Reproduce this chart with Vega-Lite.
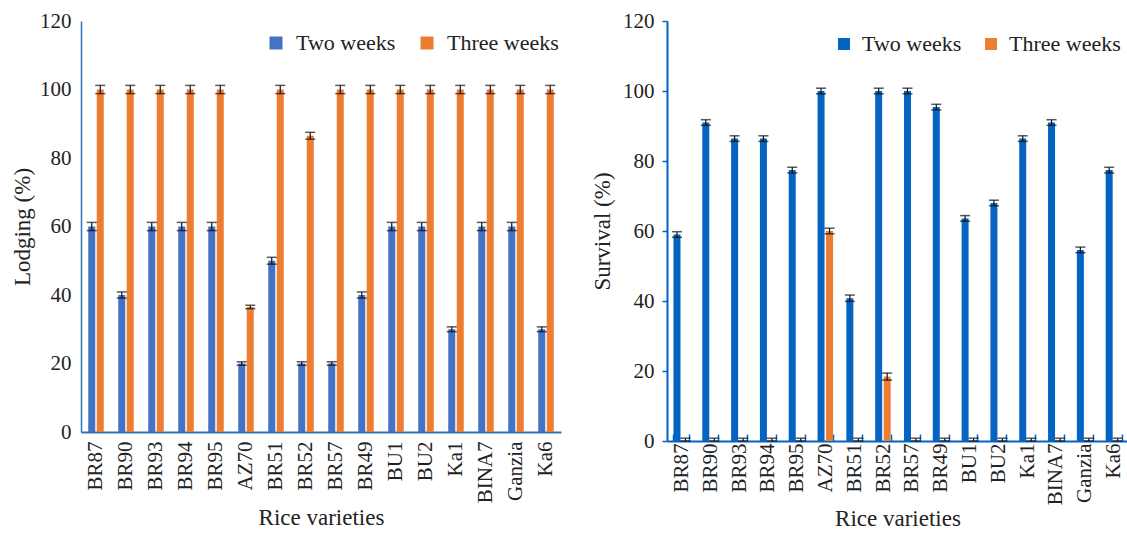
{
  "$schema": "https://vega.github.io/schema/vega-lite/v6.json",
  "padding": {"left": 11, "top": 10, "right": 0, "bottom": 0},
  "background": "white",
  "bounds": "flush",
  "spacing": 106,
  "config": {
    "font": "Liberation Serif",
    "view": {"stroke": null},
    "style": {"guide-label": {"font": "Liberation Serif"}, "guide-title": {"font": "Liberation Serif"}},
    "axis": {"labelFont": "Liberation Serif", "titleFont": "Liberation Serif", "labelFontSize": 21, "titleFontSize": 23, "titleFontWeight": "normal", "labelColor": "#222222", "titleColor": "#222222", "grid": false},
    "legend": {"labelFont": "Liberation Serif", "labelFontSize": 22, "labelColor": "#222222"}
  },
  "datasets": {
    "lodging": [
      {"variety": "BR87", "period": "Two weeks", "value": 60, "lo": 58.8, "hi": 61.2},
      {"variety": "BR87", "period": "Three weeks", "value": 100, "lo": 98.8, "hi": 101.2},
      {"variety": "BR90", "period": "Two weeks", "value": 40, "lo": 39.1, "hi": 40.9},
      {"variety": "BR90", "period": "Three weeks", "value": 100, "lo": 98.8, "hi": 101.2},
      {"variety": "BR93", "period": "Two weeks", "value": 60, "lo": 58.8, "hi": 61.2},
      {"variety": "BR93", "period": "Three weeks", "value": 100, "lo": 98.8, "hi": 101.2},
      {"variety": "BR94", "period": "Two weeks", "value": 60, "lo": 58.8, "hi": 61.2},
      {"variety": "BR94", "period": "Three weeks", "value": 100, "lo": 98.8, "hi": 101.2},
      {"variety": "BR95", "period": "Two weeks", "value": 60, "lo": 58.8, "hi": 61.2},
      {"variety": "BR95", "period": "Three weeks", "value": 100, "lo": 98.8, "hi": 101.2},
      {"variety": "AZ70", "period": "Two weeks", "value": 20, "lo": 19.5, "hi": 20.5},
      {"variety": "AZ70", "period": "Three weeks", "value": 36.5, "lo": 36, "hi": 37},
      {"variety": "BR51", "period": "Two weeks", "value": 50, "lo": 49, "hi": 51},
      {"variety": "BR51", "period": "Three weeks", "value": 100, "lo": 98.8, "hi": 101.2},
      {"variety": "BR52", "period": "Two weeks", "value": 20, "lo": 19.5, "hi": 20.5},
      {"variety": "BR52", "period": "Three weeks", "value": 86.5, "lo": 85.5, "hi": 87.5},
      {"variety": "BR57", "period": "Two weeks", "value": 20, "lo": 19.5, "hi": 20.5},
      {"variety": "BR57", "period": "Three weeks", "value": 100, "lo": 98.8, "hi": 101.2},
      {"variety": "BR49", "period": "Two weeks", "value": 40, "lo": 39.1, "hi": 40.9},
      {"variety": "BR49", "period": "Three weeks", "value": 100, "lo": 98.8, "hi": 101.2},
      {"variety": "BU1", "period": "Two weeks", "value": 60, "lo": 58.8, "hi": 61.2},
      {"variety": "BU1", "period": "Three weeks", "value": 100, "lo": 98.8, "hi": 101.2},
      {"variety": "BU2", "period": "Two weeks", "value": 60, "lo": 58.8, "hi": 61.2},
      {"variety": "BU2", "period": "Three weeks", "value": 100, "lo": 98.8, "hi": 101.2},
      {"variety": "Ka1", "period": "Two weeks", "value": 30, "lo": 29.3, "hi": 30.7},
      {"variety": "Ka1", "period": "Three weeks", "value": 100, "lo": 98.8, "hi": 101.2},
      {"variety": "BINA7", "period": "Two weeks", "value": 60, "lo": 58.8, "hi": 61.2},
      {"variety": "BINA7", "period": "Three weeks", "value": 100, "lo": 98.8, "hi": 101.2},
      {"variety": "Ganzia", "period": "Two weeks", "value": 60, "lo": 58.8, "hi": 61.2},
      {"variety": "Ganzia", "period": "Three weeks", "value": 100, "lo": 98.8, "hi": 101.2},
      {"variety": "Ka6", "period": "Two weeks", "value": 30, "lo": 29.3, "hi": 30.7},
      {"variety": "Ka6", "period": "Three weeks", "value": 100, "lo": 98.8, "hi": 101.2}
    ],
    "survival": [
      {"variety": "BR87", "period": "Two weeks", "value": 59, "lo": 58.2, "hi": 59.8},
      {"variety": "BR87", "period": "Three weeks", "value": 0, "lo": 0, "hi": 0.8},
      {"variety": "BR90", "period": "Two weeks", "value": 91, "lo": 90.2, "hi": 91.8},
      {"variety": "BR90", "period": "Three weeks", "value": 0, "lo": 0, "hi": 0.8},
      {"variety": "BR93", "period": "Two weeks", "value": 86.4, "lo": 85.6, "hi": 87.2},
      {"variety": "BR93", "period": "Three weeks", "value": 0, "lo": 0, "hi": 0.8},
      {"variety": "BR94", "period": "Two weeks", "value": 86.4, "lo": 85.6, "hi": 87.2},
      {"variety": "BR94", "period": "Three weeks", "value": 0, "lo": 0, "hi": 0.8},
      {"variety": "BR95", "period": "Two weeks", "value": 77.4, "lo": 76.6, "hi": 78.2},
      {"variety": "BR95", "period": "Three weeks", "value": 0, "lo": 0, "hi": 0.8},
      {"variety": "AZ70", "period": "Two weeks", "value": 100, "lo": 99.2, "hi": 100.8},
      {"variety": "AZ70", "period": "Three weeks", "value": 60, "lo": 59.2, "hi": 60.8},
      {"variety": "BR51", "period": "Two weeks", "value": 40.8, "lo": 39.9, "hi": 41.7},
      {"variety": "BR51", "period": "Three weeks", "value": 0, "lo": 0, "hi": 0.8},
      {"variety": "BR52", "period": "Two weeks", "value": 100, "lo": 99.2, "hi": 100.8},
      {"variety": "BR52", "period": "Three weeks", "value": 18.4, "lo": 17.4, "hi": 19.4},
      {"variety": "BR57", "period": "Two weeks", "value": 100, "lo": 99.2, "hi": 100.8},
      {"variety": "BR57", "period": "Three weeks", "value": 0, "lo": 0, "hi": 0.8},
      {"variety": "BR49", "period": "Two weeks", "value": 95.4, "lo": 94.6, "hi": 96.2},
      {"variety": "BR49", "period": "Three weeks", "value": 0, "lo": 0, "hi": 0.8},
      {"variety": "BU1", "period": "Two weeks", "value": 63.6, "lo": 62.8, "hi": 64.4},
      {"variety": "BU1", "period": "Three weeks", "value": 0, "lo": 0, "hi": 0.8},
      {"variety": "BU2", "period": "Two weeks", "value": 68, "lo": 67.2, "hi": 68.8},
      {"variety": "BU2", "period": "Three weeks", "value": 0, "lo": 0, "hi": 0.8},
      {"variety": "Ka1", "period": "Two weeks", "value": 86.4, "lo": 85.6, "hi": 87.2},
      {"variety": "Ka1", "period": "Three weeks", "value": 0, "lo": 0, "hi": 0.8},
      {"variety": "BINA7", "period": "Two weeks", "value": 91, "lo": 90.2, "hi": 91.8},
      {"variety": "BINA7", "period": "Three weeks", "value": 0, "lo": 0, "hi": 0.8},
      {"variety": "Ganzia", "period": "Two weeks", "value": 54.6, "lo": 53.8, "hi": 55.4},
      {"variety": "Ganzia", "period": "Three weeks", "value": 0, "lo": 0, "hi": 0.8},
      {"variety": "Ka6", "period": "Two weeks", "value": 77.4, "lo": 76.6, "hi": 78.2},
      {"variety": "Ka6", "period": "Three weeks", "value": 0, "lo": 0, "hi": 0.8}
    ]
  },
  "resolve": {"scale": {"color": "independent"}, "legend": {"color": "independent"}},
  "hconcat": [
    {
      "width": 480,
      "height": 411,
      "data": {"name": "lodging"},
      "encoding": {
        "x": {"field": "variety", "type": "nominal", "sort": null, "title": "Rice varieties",
              "scale": {"paddingInner": 0.483, "paddingOuter": 0.2415},
              "axis": {"labelFont": "Liberation Serif", "titleFont": "Liberation Serif", "labelAngle": -90, "labelPadding": 9, "ticks": true, "tickSize": 0, "tickOpacity": 0, "domainColor": "#2E75B6", "domainWidth": 2, "titlePadding": 4}},
        "xOffset": {"field": "period", "sort": ["Two weeks", "Three weeks"], "scale": {"paddingInner": 0.176}}
      },
      "layer": [
        {
          "mark": {"type": "bar"},
          "encoding": {
            "y": {"field": "value", "type": "quantitative", "title": "Lodging (%)",
                  "scale": {"domain": [0, 120]},
                  "axis": {"labelFont": "Liberation Serif", "titleFont": "Liberation Serif", "tickCount": 6, "ticks": true, "tickSize": 0, "tickOpacity": 0, "labelPadding": 10, "domainColor": "#2E75B6", "domainWidth": 1.5, "titlePadding": 5}},
            "color": {"field": "period", "type": "nominal", "sort": ["Two weeks", "Three weeks"],
                      "scale": {"range": ["#4472C4", "#ED7D31"]},
                      "legend": {"labelFont": "Liberation Serif", "orient": "none", "legendX": 184, "legendY": 11, "direction": "horizontal", "title": null, "symbolType": "square", "symbolSize": 169, "symbolStrokeWidth": 0, "columnPadding": 20, "labelOffset": 9}}
          }
        },
        {
          "mark": {"type": "rule", "color": "#111111", "strokeWidth": 1.2},
          "encoding": {"y": {"field": "lo", "type": "quantitative"}, "y2": {"field": "hi"}}
        },
        {
          "mark": {"type": "tick", "color": "#111111", "thickness": 1.5, "size": 10},
          "encoding": {"y": {"field": "lo", "type": "quantitative"}}
        },
        {
          "mark": {"type": "tick", "color": "#111111", "thickness": 1.5, "size": 10},
          "encoding": {"y": {"field": "hi", "type": "quantitative"}}
        }
      ]
    },
    {
      "width": 461,
      "height": 420,
      "data": {"name": "survival"},
      "encoding": {
        "x": {"field": "variety", "type": "nominal", "sort": null, "title": "Rice varieties",
              "scale": {"paddingInner": 0.45, "paddingOuter": 0.225},
              "axis": {"labelFont": "Liberation Serif", "titleFont": "Liberation Serif", "labelAngle": -90, "labelPadding": 9, "ticks": true, "tickBand": "extent", "tickSize": -7, "tickColor": "#0563C1", "tickWidth": 1.5, "domainColor": "#0563C1", "domainWidth": 2, "titlePadding": 3}},
        "xOffset": {"field": "period", "sort": ["Two weeks", "Three weeks"], "scale": {"paddingInner": 0.222}}
      },
      "layer": [
        {
          "mark": {"type": "bar"},
          "encoding": {
            "y": {"field": "value", "type": "quantitative", "title": "Survival (%)",
                  "scale": {"domain": [0, 120]},
                  "axis": {"labelFont": "Liberation Serif", "titleFont": "Liberation Serif", "tickCount": 6, "ticks": true, "tickSize": 5, "tickColor": "#0563C1", "tickWidth": 1.5, "labelPadding": 8, "domainColor": "#0563C1", "domainWidth": 2, "titlePadding": 8}},
            "color": {"field": "period", "type": "nominal", "sort": ["Two weeks", "Three weeks"],
                      "scale": {"range": ["#0563C1", "#ED7D31"]},
                      "legend": {"labelFont": "Liberation Serif", "orient": "none", "legendX": 166, "legendY": 12, "direction": "horizontal", "title": null, "symbolType": "square", "symbolSize": 144, "symbolStrokeWidth": 0, "columnPadding": 18, "labelOffset": 7,
                                 "encode": {"symbols": {"update": {"fill": {"signal": "datum.value === 'Two weeks' ? '#4472C4' : '#ED7D31'"}}}}}}
          }
        },
        {
          "mark": {"type": "rule", "color": "#111111", "strokeWidth": 1.2},
          "encoding": {"y": {"field": "lo", "type": "quantitative"}, "y2": {"field": "hi"}}
        },
        {
          "mark": {"type": "tick", "color": "#111111", "thickness": 1.5, "size": 10},
          "encoding": {"y": {"field": "lo", "type": "quantitative"}}
        },
        {
          "mark": {"type": "tick", "color": "#111111", "thickness": 1.5, "size": 10},
          "encoding": {"y": {"field": "hi", "type": "quantitative"}}
        }
      ]
    }
  ]
}
